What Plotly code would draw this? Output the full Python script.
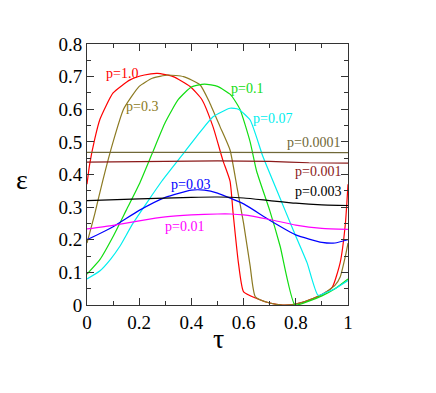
import plotly.graph_objects as go

# p = 1.0
tau_p1 = [0, 0.01, 0.03, 0.05, 0.1, 0.165, 0.22, 0.27, 0.33, 0.395, 0.44, 0.483, 0.52,
          0.548, 0.56, 0.58, 0.6, 0.65, 0.7, 0.75, 0.8, 0.85, 0.9, 0.94, 0.97, 0.99, 1.0]
eps_p1 = [0.37, 0.43, 0.51, 0.57, 0.65, 0.69, 0.705, 0.71, 0.70, 0.67, 0.63, 0.546, 0.445,
          0.38, 0.28, 0.13, 0.04, 0.02, 0.006, 0.0, 0.003, 0.015, 0.032, 0.055, 0.13, 0.25, 0.37]

# p = 0.3
tau_p03 = [0, 0.03, 0.06, 0.1, 0.14, 0.2, 0.25, 0.31, 0.37, 0.433, 0.47, 0.51, 0.548,
           0.575, 0.6, 0.625, 0.645, 0.7, 0.75, 0.8, 0.85, 0.9, 0.95, 0.97, 0.99, 1.0]
eps_p03 = [0.19, 0.28, 0.38, 0.5, 0.6, 0.67, 0.695, 0.705, 0.70, 0.675, 0.62, 0.546, 0.475,
           0.36, 0.25, 0.12, 0.025, 0.006, 0.0, 0.003, 0.015, 0.032, 0.06, 0.086, 0.15, 0.19]

# p = 0.1
tau_p01 = [0, 0.05, 0.1, 0.15, 0.2, 0.25, 0.3, 0.35, 0.4, 0.45, 0.5, 0.55, 0.586, 0.625,
           0.65, 0.7, 0.74, 0.797, 0.85, 0.9, 0.95, 1.0]
eps_p01 = [0.095, 0.14, 0.21, 0.29, 0.37, 0.465, 0.56, 0.63, 0.668, 0.677, 0.67, 0.645, 0.60,
           0.50, 0.41, 0.29, 0.18, 0.0, 0.012, 0.028, 0.05, 0.08]

# p = 0.07
tau_p007 = [0, 0.05, 0.09, 0.126, 0.176, 0.287, 0.37, 0.433, 0.483, 0.548, 0.58, 0.625, 0.674,
            0.728, 0.79, 0.843, 0.885, 0.92, 0.95, 1.0]
eps_p007 = [0.08, 0.105, 0.14, 0.18, 0.25, 0.38, 0.465, 0.53, 0.577, 0.603, 0.60, 0.567, 0.455,
            0.35, 0.23, 0.13, 0.03, 0.04, 0.05, 0.075]

# p = 0.03
tau_p003b = [0, 0.1, 0.2, 0.3, 0.4, 0.45, 0.5, 0.6, 0.7, 0.8, 0.9, 0.95, 1.0]
eps_p003b = [0.2, 0.24, 0.29, 0.33, 0.352, 0.352, 0.343, 0.31, 0.26, 0.215, 0.192, 0.19, 0.2]

# p = 0.01
tau_p001m = [0, 0.1, 0.2, 0.3, 0.4, 0.5, 0.55, 0.6, 0.7, 0.8, 0.9, 1.0]
eps_p001m = [0.233, 0.244, 0.258, 0.27, 0.276, 0.279, 0.279, 0.276, 0.262, 0.245, 0.235, 0.232]

# p = 0.003
tau_p0003 = [0, 0.2, 0.4, 0.5, 0.6, 0.7, 0.8, 0.9, 1.0]
eps_p0003 = [0.32, 0.325, 0.33, 0.331, 0.328, 0.32, 0.312, 0.307, 0.305]

# p = 0.001
tau_p0001 = [0, 0.3, 0.5, 0.7, 0.85, 1.0]
eps_p0001 = [0.438, 0.44, 0.442, 0.44, 0.436, 0.435]

# p = 0.0001
tau_p00001 = [0, 0.5, 1.0]
eps_p00001 = [0.468, 0.468, 0.467]

series = [
    (tau_p1, eps_p1, '#ff0000', 'p=1.0', 0.134, 0.71),
    (tau_p03, eps_p03, '#8c7a22', 'p=0.3', 0.21, 0.607),
    (tau_p01, eps_p01, '#11dd11', 'p=0.1', 0.613, 0.665),
    (tau_p007, eps_p007, '#00eeee', 'p=0.07', 0.709, 0.573),
    (tau_p003b, eps_p003b, '#0000ff', 'p=0.03', 0.395, 0.368),
    (tau_p001m, eps_p001m, '#ff00ff', 'p=0.01', 0.375, 0.24),
    (tau_p0003, eps_p0003, '#000000', 'p=0.003', 0.886, 0.347),
    (tau_p0001, eps_p0001, '#8b1a1a', 'p=0.001', 0.886, 0.408),
    (tau_p00001, eps_p00001, '#706838', 'p=0.0001', 0.866, 0.497),
]

serif = 'Liberation Serif'
fig = go.Figure()
for t, e, col, name, lx, ly in series:
    fig.add_trace(go.Scatter(x=t, y=e, mode='lines',
                             line=dict(color=col, width=1.2, shape='spline', smoothing=0.5),
                             name=name, showlegend=False))
    fig.add_annotation(x=lx, y=ly, text=name, showarrow=False, font=dict(family=serif, size=14, color=col))

# greek axis labels
fig.add_annotation(xref='paper', yref='paper', x=-0.28, y=0.48, text='ε', showarrow=False,
                   font=dict(family=serif, size=28, color='black'))
fig.add_annotation(xref='paper', yref='paper', x=0.502, y=-0.195, text='τ', showarrow=False,
                   font=dict(family=serif, size=28, color='black'))

axis_common = dict(showgrid=False, zeroline=False, showline=True, linecolor='#333', linewidth=1,
                   mirror='ticks', ticks='inside', ticklen=7, tickcolor='#333',
                   tickfont=dict(family=serif, size=19, color='black'))
fig.update_xaxes(range=[0, 1], dtick=0.2, minor=dict(dtick=0.1, ticks='inside', ticklen=4, tickcolor='#333'),
                 **axis_common)
fig.update_yaxes(range=[0, 0.8], dtick=0.1, minor=dict(dtick=0.05, ticks='inside', ticklen=4, tickcolor='#333'),
                 **axis_common)
# the page adds ~8px body margin, so the plot box is shifted up/left to compensate
fig.update_layout(width=436, height=393, margin=dict(l=79, r=96, t=36, b=96),
                  font=dict(family=serif, color='black'),
                  plot_bgcolor='white', paper_bgcolor='white')

fig.write_html("out.html")
